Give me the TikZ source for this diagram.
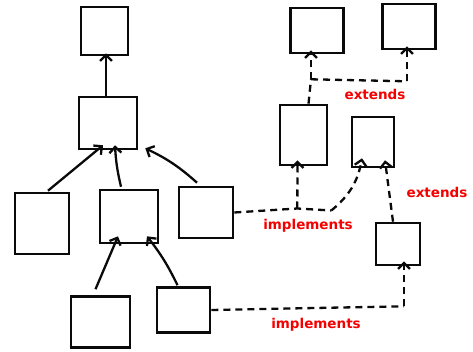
\documentclass[tikz,border=0pt]{standalone}
\usepackage{fontspec}
\setsansfont{DejaVu Sans}
\usetikzlibrary{arrows.meta,calc}
\definecolor{ink}{RGB}{10,10,10}
\definecolor{note}{RGB}{245,0,0}
\tikzset{
  box/.style={draw=ink, line width=2.6pt, rectangle, inner sep=0pt},
  tip/.style={-{Straight Barb[length=6pt,width=12pt,line width=2.3pt]}},
  arr/.style={draw=ink, line width=2.3pt, tip},
  rel/.style={draw=ink, line width=2.3pt, dash pattern=on 7pt off 5pt},
  relarr/.style={rel, tip},
  lbl/.style={text=note, font=\sffamily\bfseries\fontsize{13.5}{13.5}\selectfont, inner sep=0pt},
}
\begin{document}
\begin{tikzpicture}[x=1pt,y=-1pt]
\useasboundingbox (0,0) rectangle (473,352);

% class hierarchy on the left
\node[box, minimum width=47pt, minimum height=48pt] (A) at (104.5,31) {};
\node[box, minimum width=58pt, minimum height=52pt] (B) at (108,123) {};
\node[box, minimum width=54pt, minimum height=61pt] (C) at (42,223.5) {};
\node[box, minimum width=58pt, minimum height=53pt] (D) at (129,216.5) {};
\node[box, minimum width=54pt, minimum height=51pt] (E) at (206,212.5) {};
\node[box, minimum width=59pt, minimum height=51pt] (F) at (100.5,322) {};
\node[box, minimum width=53pt, minimum height=45pt] (G) at (183.5,310) {};

% interface hierarchy on the right
\node[box, minimum width=53pt, minimum height=45pt] (H) at (317,30.5) {};
\node[box, minimum width=53pt, minimum height=45pt] (I) at (409,26.5) {};
\node[box, minimum width=47pt, minimum height=60pt] (J) at (303.5,135) {};
\node[box, minimum width=42pt, minimum height=50pt] (K) at (373,142) {};
\node[box, minimum width=44pt, minimum height=42pt] (L) at (398,244) {};

% inheritance arrows
\draw[arr] ($(B.north)+(-2,0)$) -- ($(A.south)+(1.5,-3)$);
\draw[arr] ($(C.north)+(6,-1)$) -- ($(B.south)+(-5,-5)$);
\draw[arr] ($(D.north)+(-8,-2)$) to[bend left=5] ($(B.south)+(7,-5)$);
\draw[arr] ($(E.north)+(-9,-3)$) to[bend right=8] ($(B.south east)+(7,-2)$);
\draw[arr] ($(F.north)+(-5,-6)$) -- ($(D.south)+(-11,-8)$);
\draw[arr] ($(G.north)+(-6,-1)$) to[bend right=6] ($(D.south)+(18,-8)$);

% implements: E to J and K
\coordinate (m1) at ($(E.east)+(63,-4)$);
\coordinate (m2) at ($(E.east)+(97,-2)$);
\draw[rel] (E.east) -- (m1) -- (m2);
\draw[relarr] (m1) -- ($(J.south)+(-6,-6)$);
\draw[relarr] (m2) to[bend right=20] ($(K.south)+(-11,-10)$);
\node[lbl] (impl1) at (308,226) {implements};

% extends: J to H and I
\coordinate (m3) at ($(H.south)+(-6,25)$);
\coordinate (m4) at ($(I.south)+(-2,31)$);
\draw[rel] ($(J.north)+(5,0)$) -- (m3);
\draw[relarr] (m3) -- ($(H.south)+(-6,-4)$);
\draw[rel] (m3) -- (m4);
\draw[relarr] (m4) -- ($(I.south)+(-2,-4)$);
\node[lbl] (ext1) at (375,94) {extends};

% extends: L to K
\draw[relarr] ($(L.north)+(-5,0)$) -- ($(K.south)+(12,-8)$);
\node[lbl] (ext2) at (437,192) {extends};

% implements: G to L
\coordinate (m5) at ($(L.south)+(6,40)$);
\draw[rel] (G.east) -- (m5);
\draw[relarr] (m5) -- ($(L.south)+(6,-5)$);
\node[lbl] (impl2) at (316,325) {implements};
\end{tikzpicture}
\end{document}
